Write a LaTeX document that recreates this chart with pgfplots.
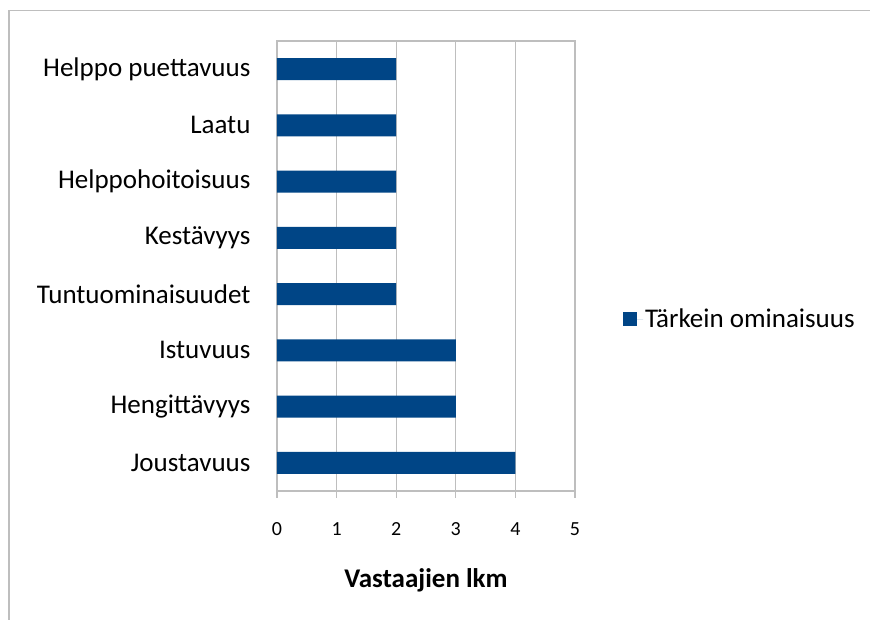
\documentclass[border=0pt]{standalone}
\usepackage{pgfplots}
\pgfplotsset{compat=1.18}
\usepackage{fontspec}
\setmainfont{Carlito}
\definecolor{barblue}{RGB}{0,69,134}
\definecolor{gridgray}{RGB}{190,190,190}
\begin{document}
\begin{tikzpicture}[x=1pt,y=1pt]
\useasboundingbox (0pt,0pt) rectangle (870pt,620pt);
\draw[gridgray,line width=1.5pt] (9pt,0pt) -- (9pt,609.5pt) -- (870pt,609.5pt);
\begin{axis}[
  at={(277pt,129pt)}, anchor=south west,
  scale only axis, width=298pt, height=450pt,
  xbar, bar width=22pt,
  xmin=0, xmax=5, ymin=-0.5, ymax=7.5,
  xtick={0,1,2,3,4,5},
  ytick={0,1,2,3,4,5,6,7},
  yticklabels={Joustavuus,Hengittävyys,Istuvuus,Tuntuominaisuudet,Kestävyys,Helppohoitoisuus,Laatu,Helppo puettavuus},
  xmajorgrids, grid style={gridgray,line width=1.2pt},
  axis line style={gridgray,line width=1.2pt},
  xtick pos=bottom, tick align=outside,
  major tick length=7pt,
  xtick style={gridgray,line width=1.2pt},
  ytick style={draw=none},
  /pgf/number format/assume math mode=true,
  xticklabel style={font=\fontsize{20}{22}\selectfont, yshift=-21pt},
  yticklabel style={font=\fontsize{27}{30}\selectfont, xshift=-16pt},
  xlabel={\textbf{Vastaajien lkm}},
  xlabel style={font=\fontsize{27}{30}\selectfont, yshift=-26pt},
  legend style={at={(1.161,0.382)}, anchor=west, draw=none, fill=none, inner sep=0pt,
    font=\fontsize{27}{30}\selectfont, legend cell align=left},
  legend image code/.code={\path (0pt,0pt) -- (20pt,0pt);\fill[barblue] (0pt,-7pt) rectangle (14pt,7pt);},
]
\addplot[fill=barblue, draw=none] coordinates {(4,0) (3,1) (3,2) (2,3) (2,4) (2,5) (2,6) (2,7)};
\addlegendentry{Tärkein ominaisuus}
\end{axis}
\end{tikzpicture}
\end{document}
